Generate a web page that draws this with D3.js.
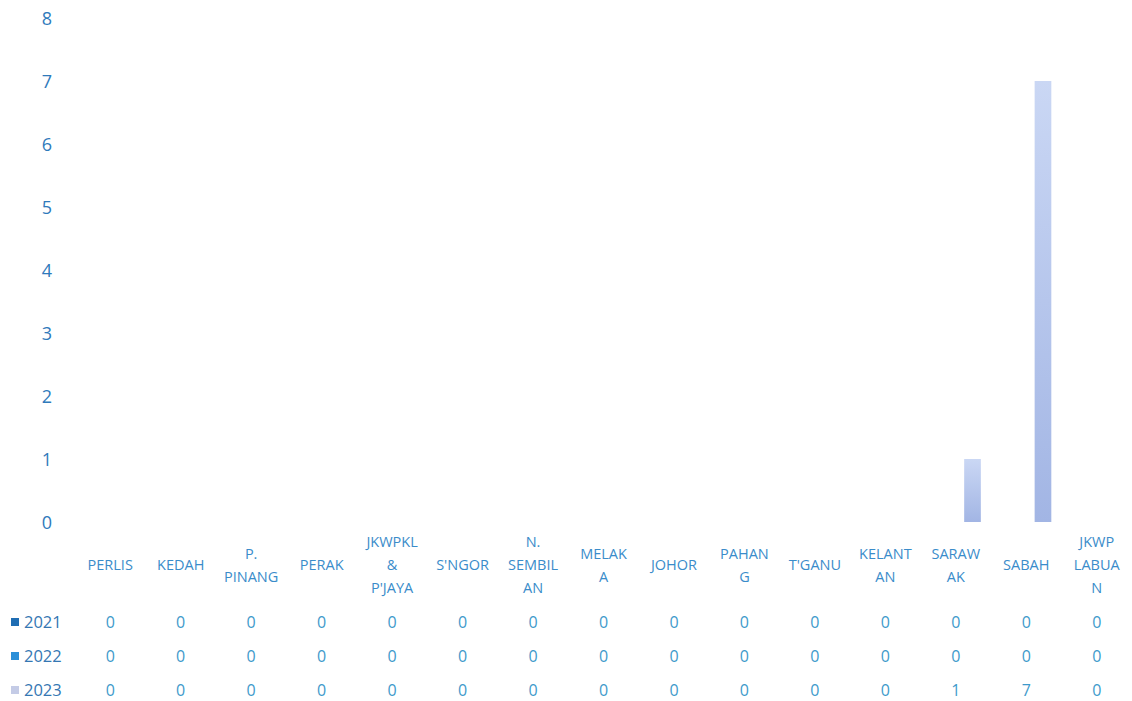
<!DOCTYPE html>
<html><head><meta charset="utf-8">
<script src="https://cdn.jsdelivr.net/npm/d3@7"></script>
<style>
html,body{margin:0;padding:0;background:#fff;}
svg{display:block;font-family:"Open Sans","Noto Sans",sans-serif;}
</style></head>
<body>
<svg id="chart" width="1132" height="701"></svg>
<script>
const categories = ["PERLIS","KEDAH","P.\nPINANG","PERAK","JKWPKL\n&\nP'JAYA","S'NGOR","N.\nSEMBIL\nAN","MELAK\nA","JOHOR","PAHAN\nG","T'GANU","KELANT\nAN","SARAW\nAK","SABAH","JKWP\nLABUA\nN"];
const seriesNames = ["2021","2022","2023"];
const values2021 = [0,0,0,0,0,0,0,0,0,0,0,0,0,0,0];
const values2022 = [0,0,0,0,0,0,0,0,0,0,0,0,0,0,0];
const values2023 = [0,0,0,0,0,0,0,0,0,0,0,0,1,7,0];
const yTicks = [0,1,2,3,4,5,6,7,8];

const seriesValues = [values2021, values2022, values2023];
const seriesColors = ["#1f6db3", "#2b8fd8", "#c4cbe6"];
const FONT = "'Open Sans','Noto Sans',sans-serif";

const svg = d3.select("#chart");
const defs = svg.append("defs");
const grad = defs.append("linearGradient").attr("id","g2023").attr("x1",0).attr("y1",0).attr("x2",0).attr("y2",1);
grad.append("stop").attr("offset","0%").attr("stop-color","#cad7f4");
grad.append("stop").attr("offset","100%").attr("stop-color","#a2b5e4");

const x0 = d3.scaleBand().domain(categories).range([75, 1132]).padding(0);
const x1 = d3.scaleBand().domain(seriesNames).range([x0.bandwidth()*0.145, x0.bandwidth()*0.855]).padding(0);
const y = d3.scaleLinear().domain([0, 8]).range([522, 18]);

// Y axis labels
const yAxis = d3.axisLeft(y).tickValues(yTicks).tickSize(0).tickPadding(0).tickFormat(d3.format("d"));
const yg = svg.append("g").attr("transform","translate(47,0)").call(yAxis)
  .attr("font-family", FONT).attr("font-size", 18);
yg.select(".domain").remove();
yg.selectAll("text").attr("fill","#2f7abb").attr("text-anchor","middle").attr("dy","0.36em");

// Bars
const data = [];
categories.forEach((c, i) => {
  seriesNames.forEach((s, j) => data.push({cat: c, series: s, value: seriesValues[j][i], j}));
});
svg.append("g").selectAll("rect").data(data.filter(d => d.value > 0)).join("rect")
  .attr("x", d => x0(d.cat) + x1(d.series))
  .attr("width", x1.bandwidth())
  .attr("y", d => y(d.value))
  .attr("height", d => y(0) - y(d.value))
  .attr("fill", d => d.j === 2 ? "url(#g2023)" : seriesColors[d.j]);

// Category labels
const lineH = 23;
const catG = svg.append("g");
categories.forEach(c => {
  const lines = c.split("\n");
  const cx = x0(c) + x0.bandwidth()/2;
  const top = 565 - (lines.length - 1) * lineH / 2;
  const t = catG.append("text").attr("x", cx).attr("text-anchor","middle")
    .attr("fill","#3a8cca").attr("font-size","14.5px");
  lines.forEach((l, k) => {
    t.append("tspan").attr("x", cx).attr("y", top + k*lineH).attr("dy","0.35em").text(l);
  });
});

// Data table
const rowY = [622, 656, 690];
const tbl = svg.append("g");
seriesNames.forEach((s, j) => {
  tbl.append("rect").attr("x", 11).attr("y", rowY[j]-4).attr("width", 8).attr("height", 8).attr("fill", seriesColors[j]);
  tbl.append("text").attr("x", 24).attr("y", rowY[j]).attr("dy","0.35em")
    .attr("fill","#3577b3").attr("font-size","16.5px").text(s);
  categories.forEach((c, i) => {
    tbl.append("text").attr("x", x0(c) + x0.bandwidth()/2).attr("y", rowY[j]).attr("dy","0.35em")
      .attr("text-anchor","middle").attr("fill","#3e9acb").attr("font-size","16px")
      .text(seriesValues[j][i]);
  });
});
</script>
</body></html>
